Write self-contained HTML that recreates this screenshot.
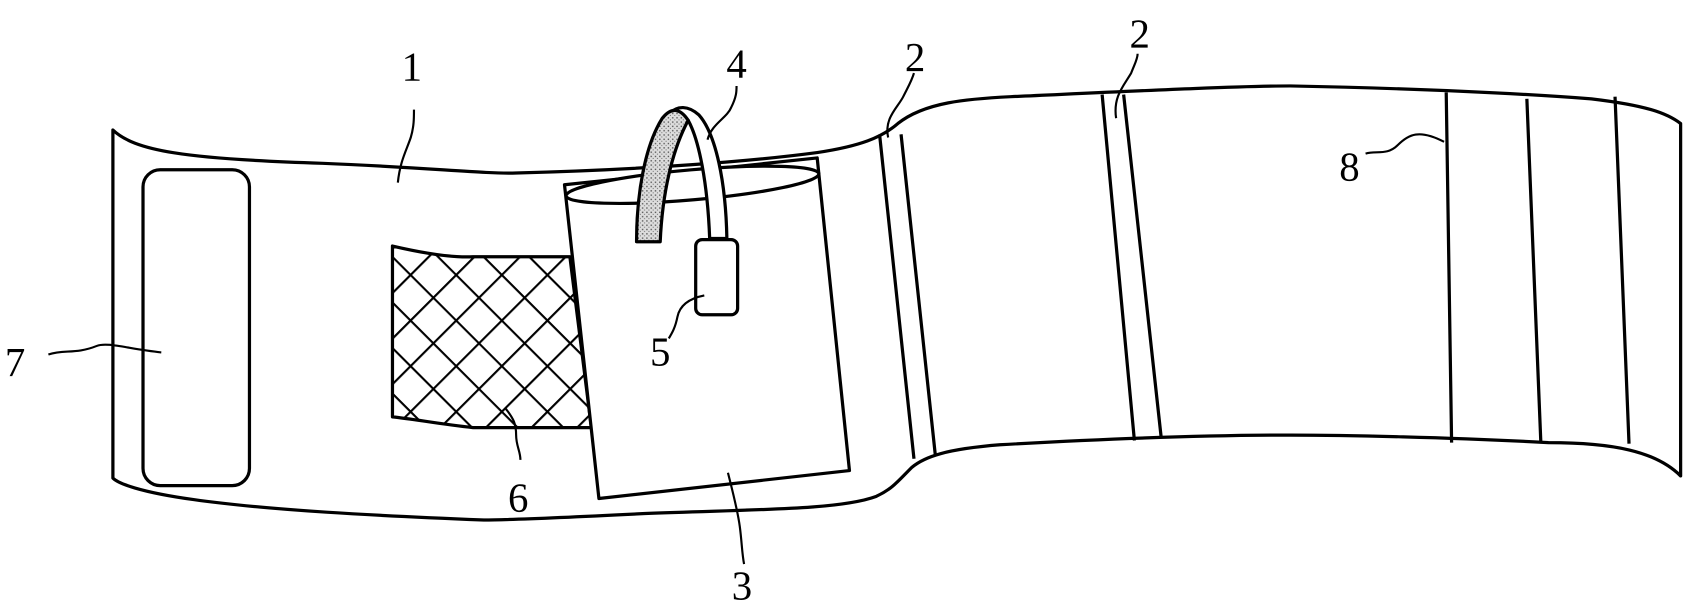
<!DOCTYPE html>
<html><head><meta charset="utf-8"><style>html,body{margin:0;padding:0;background:#fff}svg{display:block}</style></head>
<body>
<svg width="1686" height="607" viewBox="0 0 1568 565" preserveAspectRatio="none" xmlns="http://www.w3.org/2000/svg">
<defs>
<pattern id="mesh" width="30" height="30" patternUnits="userSpaceOnUse" patternTransform="rotate(45)">
<rect width="30" height="30" fill="#fff"/>
<path d="M0 0H30M0 0V30" stroke="#000" stroke-width="4"/>
</pattern>
<pattern id="dots" width="4" height="4" patternUnits="userSpaceOnUse">
<rect width="4" height="4" fill="#ddd"/><rect x="1" y="1" width="1.3" height="1.3" fill="#555"/><rect x="3" y="3" width="1" height="1" fill="#777"/>
</pattern>
</defs>
<g fill="none" stroke="#000" stroke-width="3" stroke-linejoin="round">
<path fill="#fff" d="M105,121 C125,140 170,148 300,152 C400,156 450,162 480,161 C600,158 700,150 760,142 C800,136 820,128 835,115 C860,95 900,92 940,90 C1050,85 1150,80 1200,80 C1300,82 1400,86 1480,92 C1530,98 1550,105 1563,115 L1563,443 C1540,420 1500,412 1440,412 C1350,407 1250,405 1200,405 C1100,405 1000,410 930,414 C880,418 860,425 848,435 C835,448 830,455 815,462 C780,475 700,474 600,478 C520,482 470,484 450,484 C350,480 250,475 180,465 C130,458 110,450 105,445 Z"/>
<rect x="133" y="158" width="99" height="294" rx="16"/>
<path fill="url(#mesh)" d="M365,229 C395,236 420,240 440,239 L530,239 L550,398 L440,398 C410,395 385,390 365,388 Z"/>
<path d="M818,125 L850,427 M838,125 L870,425 M1025,88 L1055,410 M1045,88 L1080,408 M1345,86 L1350,412 M1420,92 L1433,412 M1502,90 L1515,413"/>
<path fill="#fff" d="M525,172 L760,147 L790,438 L557,464 Z"/>
<ellipse cx="644" cy="172" rx="118" ry="14" transform="rotate(-5 644 172)" fill="#fff"/>
<path fill="#fff" d="M603,180 L612,180 C620,140 632,115 640,112 C650,130 658,170 660,222 L676,222 C675,170 666,125 650,107 C640,98 630,98 622,106 Z"/>
<path fill="url(#dots)" d="M592,225 L614,225 C616,180 625,140 640,112 C632,100 624,100 616,110 C600,135 592,180 592,225 Z"/>
<rect x="647" y="223" width="39" height="70" rx="6" fill="#fff"/>
<path stroke-width="2" d="M370,170 C372,150 378,140 382,128 C385,118 385,110 385,102 M658,130 C662,115 676,110 680,100 C685,90 685,85 685,80 M826,128 C822,110 835,100 840,90 C845,80 848,75 850,68 M1038,110 C1035,90 1045,80 1052,68 C1055,60 1058,55 1058,50 M1343,132 C1320,120 1310,125 1300,135 C1290,145 1280,140 1270,143 M150,328 C120,325 100,318 90,322 C70,330 60,325 45,330 M655,275 C640,278 632,285 630,295 C628,305 625,310 622,315 M470,380 C478,390 480,395 480,405 C480,415 484,420 484,428 M677,440 C682,460 686,475 688,490 C690,505 690,515 692,525"/>
</g>
<g font-family="Liberation Serif, serif" font-size="38" fill="#000" text-anchor="middle">
<text x="383" y="75">1</text>
<text x="685" y="72">4</text>
<text x="851" y="66">2</text>
<text x="1060" y="44">2</text>
<text x="1255" y="168">8</text>
<text x="14" y="350">7</text>
<text x="614" y="340">5</text>
<text x="482" y="476">6</text>
<text x="690" y="558">3</text>
</g>
</svg>
</body></html>
